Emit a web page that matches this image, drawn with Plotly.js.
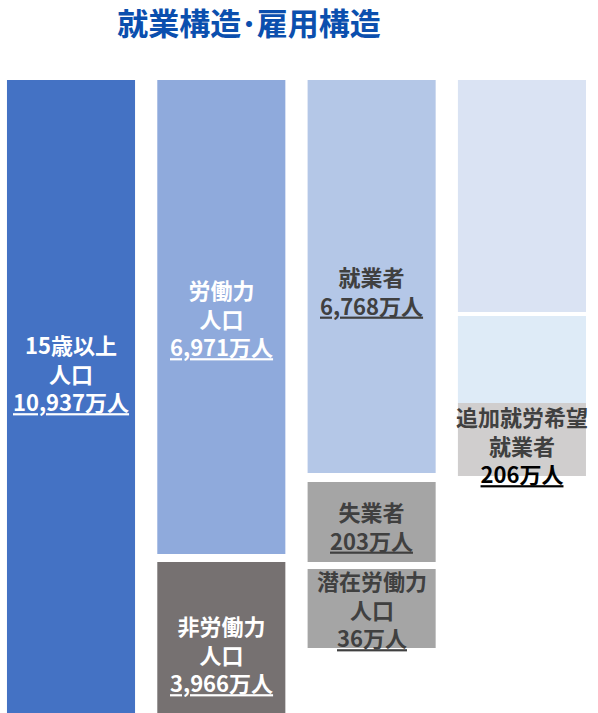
<!DOCTYPE html>
<html><head><meta charset="utf-8">
<script src="https://cdn.plot.ly/plotly-3.0.1.min.js"></script>
<style>html,body{margin:0;padding:0;background:#fff}#chart{width:598px;height:713px}</style>
</head><body><div id="chart"></div>
<script>
// ---- data (万人) ----
const blockNames = ['15歳以上人口','労働力人口','非労働力人口','就業者','失業者','潜在労働力人口','','','追加就労希望就業者'];
const labelLines = [['15歳以上','人口'],['労働力','人口'],['非労働力','人口'],['就業者'],['失業者'],['潜在労働力','人口'],[],[],['追加就労希望','就業者']];
const valuesMan = [10937, 6971, 3966, 6768, 203, 36, null, null, 206];
const unitLabel = '万人';
const columnOf = [0, 1, 1, 2, 2, 2, 3, 3, 3];

// ---- schematic layout (the source diagram is not drawn to scale) ----
const schematicHeight = [633, 474, 151, 393, 80, 79, 232, 87, 73];
const gapBefore = [0, 0, 8, 0, 9, 7, 0, 4, 0];
const topStart = 80;
const labelShift = [-24, 0, 15.5, 14, 3.5, 0, 0, 0, 4.5];
const fills = ['#4472c4','#8faadc','#767171','#b4c7e7','#a5a5a5','#a5a5a5','#dae3f3','#deebf7','#d0cece'];
const nameColors = ['#ffffff','#ffffff','#ffffff','#404040','#404040','#404040','#000','#000','#404040'];
const valueColors = ['#ffffff','#ffffff','#ffffff','#404040','#404040','#404040','#000','#000','#000000'];

const FONT = '"Noto Sans CJK JP", "Noto Sans", sans-serif';

const bases = [];
const cursor = {};
for (let i = 0; i < schematicHeight.length; i++) {
  const col = columnOf[i];
  let c = (cursor[col] !== undefined ? cursor[col] : topStart) + gapBefore[i];
  bases.push(c);
  cursor[col] = c + schematicHeight[i];
}

const trace = {
  type: 'bar',
  x: columnOf,
  y: schematicHeight,
  base: bases,
  width: 0.852,
  marker: { color: fills, line: { width: 0 } },
  hoverinfo: 'skip',
  customdata: blockNames
};

const annotations = [];
for (let i = 0; i < valuesMan.length; i++) {
  if (valuesMan[i] === null) continue;
  const v = valuesMan[i].toLocaleString('en-US') + unitLabel;
  const text = labelLines[i].join('<br>') + '<br><span style="color:' + valueColors[i] + '"><u>' + v + '</u></span>';
  annotations.push({
    x: columnOf[i], xref: 'x',
    y: bases[i] + schematicHeight[i] / 2 + labelShift[i], yref: 'y',
    text: text, showarrow: false, xanchor: 'center', yanchor: 'middle', align: 'center',
    font: { family: FONT, size: 22, color: nameColors[i], weight: 'bold' }
  });
}

const layout = {
  width: 598, height: 713,
  margin: { l: 0, r: 0, t: 0, b: 0 },
  paper_bgcolor: '#ffffff', plot_bgcolor: '#ffffff',
  showlegend: false,
  barmode: 'overlay',
  title: {
    text: '就業構造･雇用構造',
    font: { family: FONT, size: 31, color: '#0b4fae', weight: 'bold' },
    x: 249 / 598, xanchor: 'center', xref: 'container',
    y: 1 - 24 / 713, yanchor: 'middle', yref: 'container'
  },
  xaxis: { range: [-0.4724, 3.506], visible: false, fixedrange: true },
  yaxis: { range: [713, 0], visible: false, fixedrange: true },
  annotations: annotations
};

Plotly.newPlot('chart', [trace], layout, { staticPlot: true, displayModeBar: false });
</script>
</body></html>
